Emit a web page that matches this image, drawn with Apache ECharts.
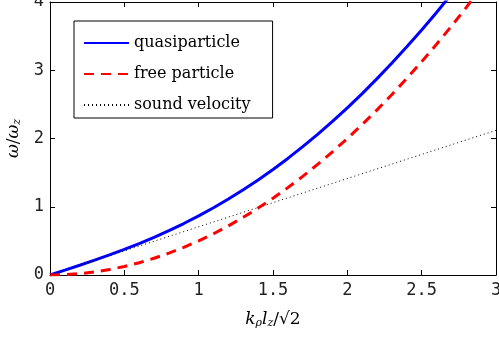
<!DOCTYPE html>
<html>
<head>
<meta charset="utf-8">
<script src="https://cdn.jsdelivr.net/npm/echarts@6/dist/echarts.min.js"></script>
<style>
  html, body { margin: 0; padding: 0; background: #fff; }
  #chart { width: 499px; height: 337px; }
</style>
</head>
<body>
<div id="chart"></div>
<script>
// k_rho l_z / sqrt(2), sampled every 0.1
const kValues = [0, 0.1, 0.2, 0.3, 0.4, 0.5, 0.6, 0.7, 0.8, 0.9, 1.0, 1.1, 1.2, 1.3, 1.4, 1.5,
  1.6, 1.7, 1.8, 1.9, 2.0, 2.1, 2.2, 2.3, 2.4, 2.5, 2.6, 2.7, 2.8, 2.9, 3.0]
const quasiparticle = [0, 0.071, 0.143, 0.217, 0.294, 0.375, 0.461, 0.552, 0.650, 0.754, 0.866,
  0.985, 1.113, 1.249, 1.393, 1.546, 1.708, 1.880, 2.060, 2.250, 2.449, 2.658, 2.877, 3.105,
  3.343, 3.590, 3.847, 4.115, 4.39, 4.67, 4.96]
const freeParticle = [0, 0.005, 0.02, 0.045, 0.08, 0.125, 0.18, 0.245, 0.32, 0.405, 0.5, 0.605,
  0.72, 0.845, 0.98, 1.125, 1.28, 1.445, 1.62, 1.805, 2.0, 2.205, 2.42, 2.645, 2.88, 3.125,
  3.38, 3.645, 3.92, 4.205, 4.5]
const soundK = [0, 3]
const soundVelocity = [0, 2.12]
const xTicks = { min: 0, max: 3, interval: 0.5 }
const yTicks = { min: 0, max: 4, interval: 1 }

const pairs = (xs, ys) => xs.map((x, i) => [x, ys[i]])

const tickFont = { color: '#222', fontFamily: 'DejaVu Sans Mono', fontSize: 17 }
const frame = { show: true, onZero: false, lineStyle: { color: '#000', width: 1 } }
const inTicks = { show: true, inside: true, length: 5, lineStyle: { color: '#000' } }
const nameRich = {
  i: { fontFamily: 'DejaVu Serif', fontStyle: 'italic', fontSize: 17, color: '#000' },
  s: { fontFamily: 'DejaVu Serif', fontStyle: 'italic', fontSize: 11, color: '#000', verticalAlign: 'bottom', padding: [8, 0, 0, 0] },
  n: { fontFamily: 'DejaVu Serif', fontSize: 17, color: '#000' },
}

const chart = echarts.init(document.getElementById('chart'), null, { renderer: 'canvas' })
chart.setOption({
  animation: false,
  grid: { left: 50, right: 3, top: 2, bottom: 62, outerBoundsMode: 'none', containLabel: false },
  legend: {
    orient: 'vertical',
    left: 74,
    top: 21,
    padding: [14, 22, 5, 9],
    itemGap: 15,
    itemWidth: 45,
    itemHeight: 20,
    itemTextGap: 5,
    backgroundColor: '#fff',
    borderColor: '#000',
    borderWidth: 1,
    borderRadius: 0,
    itemStyle: { opacity: 0 },
    textStyle: { fontFamily: 'DejaVu Serif', fontSize: 16, color: '#000' },
    data: ['quasiparticle', 'free particle', 'sound velocity'],
  },
  xAxis: [
    {
      type: 'value', ...xTicks, position: 'bottom',
      axisLine: frame, axisTick: inTicks, splitLine: { show: false },
      axisLabel: { ...tickFont, margin: 7, formatter: (v) => String(v) },
      name: '{i|k}{s|ρ}{i|l}{s|z}{n|/√2}',
      nameLocation: 'middle', nameGap: 35,
      nameTextStyle: { rich: nameRich },
    },
    {
      type: 'value', ...xTicks, position: 'top',
      axisLine: frame, axisTick: inTicks, axisLabel: { show: false }, splitLine: { show: false },
    },
  ],
  yAxis: [
    {
      type: 'value', ...yTicks, position: 'left',
      axisLine: frame, axisTick: inTicks, splitLine: { show: false },
      axisLabel: { ...tickFont, margin: 6 },
      name: '{i|ω}{n|/}{i|ω}{s|z}',
      nameLocation: 'middle', nameGap: 23, nameRotate: 90,
      nameTextStyle: { rich: nameRich },
    },
    {
      type: 'value', ...yTicks, position: 'right',
      axisLine: frame, axisTick: inTicks, axisLabel: { show: false }, splitLine: { show: false },
    },
  ],
  series: [
    {
      name: 'quasiparticle', type: 'line', showSymbol: false, symbol: 'none', clip: true,
      data: pairs(kValues, quasiparticle),
      lineStyle: { color: '#0000ff', width: 3 }, itemStyle: { color: '#0000ff' },
    },
    {
      name: 'free particle', type: 'line', showSymbol: false, symbol: 'none', clip: true,
      data: pairs(kValues, freeParticle),
      lineStyle: { color: '#ff0000', width: 3, type: [10, 7] }, itemStyle: { color: '#ff0000' },
    },
    {
      name: 'sound velocity', type: 'line', showSymbol: false, symbol: 'none', clip: true,
      data: pairs(soundK, soundVelocity),
      lineStyle: { color: '#000', width: 1, type: [1, 3] }, itemStyle: { color: '#000' },
    },
  ],
})
</script>
</body>
</html>
